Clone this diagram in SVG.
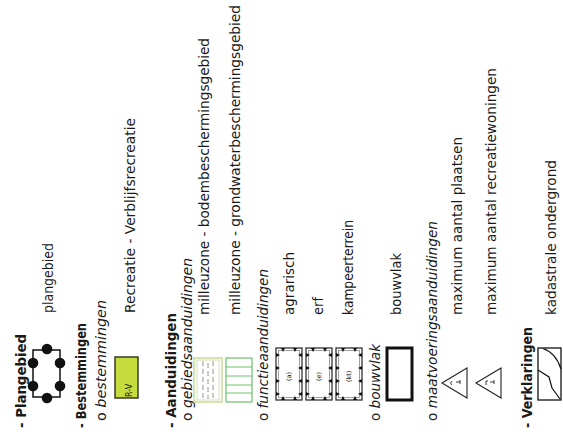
<svg xmlns="http://www.w3.org/2000/svg" width="563" height="439" viewBox="0 0 563 439">
<style>
text{font-family:"DejaVu Sans","Liberation Sans",sans-serif;fill:#1a1a1a;}
.h{font-size:14.5px;font-weight:bold;}
.t{font-size:13.5px;}
.i{font-style:italic;}
.dot{fill:#111;}
.fbox{fill:none;stroke:#333;stroke-width:1.3;}
.fin{fill:none;stroke:#888;stroke-width:0.8;}
.tri{fill:#111;}
.small{font-size:6.5px;}
</style>
<rect width="563" height="439" fill="#fff"/>

<g id="plangebied">
<text class="h" transform="translate(26,428) rotate(-90)" textLength="94" lengthAdjust="spacingAndGlyphs">- Plangebied</text>
<rect x="33" y="350" width="27" height="47" fill="none" stroke="#111" stroke-width="1.5"/>
<circle class="dot" cx="47" cy="349" r="5.3"/>
<circle class="dot" cx="33" cy="363" r="5.3"/>
<circle class="dot" cx="60" cy="363" r="5.3"/>
<circle class="dot" cx="33" cy="386" r="5.3"/>
<circle class="dot" cx="60" cy="386" r="5.3"/>
<circle class="dot" cx="47" cy="398" r="5.3"/>
<text class="t" transform="translate(53,313) rotate(-90)" textLength="70" lengthAdjust="spacingAndGlyphs">plangebied</text>
</g>

<g id="bestemmingen">
<text class="h" transform="translate(86,428) rotate(-90)" textLength="105" lengthAdjust="spacingAndGlyphs">- Bestemmingen</text>
<text class="t" transform="translate(106,421) rotate(-90)" textLength="121" lengthAdjust="spacingAndGlyphs"><tspan>o</tspan><tspan class="i"> bestemmingen</tspan></text>
</g>

<g id="recreatie">
<rect x="115" y="357" width="23" height="41" fill="#c5dc3c" stroke="#3a3a22" stroke-width="1.5"/>
<text transform="translate(132,397) rotate(-90)" font-size="8">R-V</text>
<text class="t" transform="translate(135,313) rotate(-90)" textLength="195" lengthAdjust="spacingAndGlyphs">Recreatie - Verblijfsrecreatie</text>
</g>

<g id="aanduidingen">
<text class="h" transform="translate(176,428) rotate(-90)" textLength="115" lengthAdjust="spacingAndGlyphs">- Aanduidingen</text>
<text class="t" transform="translate(192,421) rotate(-90)" textLength="163" lengthAdjust="spacingAndGlyphs"><tspan>o</tspan><tspan class="i"> gebiedsaanduidingen</tspan></text>
</g>

<g id="bodembescherming">
<rect x="194" y="358" width="28" height="44" fill="none" stroke="#b9d27e" stroke-width="1.2"/>
<rect x="197" y="360" width="22" height="40" fill="none" stroke="#c9d9a8" stroke-width="0.8"/>
<g stroke="#9a9a8a" stroke-width="1" stroke-dasharray="5 3">
<line x1="203" y1="361" x2="203" y2="399"/>
<line x1="208" y1="363" x2="208" y2="399"/>
<line x1="213" y1="361" x2="213" y2="399"/>
</g>
<text class="t" transform="translate(209,315) rotate(-90)" textLength="277" lengthAdjust="spacingAndGlyphs">milleuzone - bodembeschermingsgebied</text>
</g>

<g id="grondwaterbescherming">
<rect x="226" y="358" width="26" height="44" fill="none" stroke="#6cc06c" stroke-width="1.2"/>
<g stroke="#6cc06c" stroke-width="1">
<line x1="226" y1="367" x2="252" y2="367"/>
<line x1="226" y1="376" x2="252" y2="376"/>
<line x1="226" y1="385" x2="252" y2="385"/>
<line x1="226" y1="393" x2="252" y2="393"/>
</g>
<text class="t" transform="translate(240,315) rotate(-90)" textLength="310" lengthAdjust="spacingAndGlyphs">milleuzone - grondwaterbeschermingsgebied</text>
</g>

<g id="functieaanduidingen">
<text class="t" transform="translate(268,421) rotate(-90)" textLength="152" lengthAdjust="spacingAndGlyphs"><tspan>o</tspan><tspan class="i"> functieaanduidingen</tspan></text>
</g>

<defs>
<g id="fsym">
<rect class="fbox" x="0" y="0" width="26" height="52"/>
<rect class="fin" x="2.5" y="2.5" width="21" height="47"/>
<path class="tri" d="M0,5 l4,2 l-4,2z M0,18 l4,2 l-4,2z M0,31 l4,2 l-4,2z M0,44 l4,2 l-4,2z M26,5 l-4,2 l4,2z M26,18 l-4,2 l4,2z M26,31 l-4,2 l4,2z M26,44 l-4,2 l4,2z M5,0 l2,4 l2,-4z M17,0 l2,4 l2,-4z M5,52 l2,-4 l2,4z M17,52 l2,-4 l2,4z"/>
</g>
</defs>

<g id="agrarisch">
<use href="#fsym" x="276" y="348"/>
<text class="small" transform="translate(291,381) rotate(-90)">(a)</text>
<text class="t" transform="translate(294,315) rotate(-90)" textLength="63" lengthAdjust="spacingAndGlyphs">agrarisch</text>
</g>

<g id="erf">
<use href="#fsym" x="306" y="348"/>
<text class="small" transform="translate(321,381) rotate(-90)">(e)</text>
<text class="t" transform="translate(323,315) rotate(-90)" textLength="18" lengthAdjust="spacingAndGlyphs">erf</text>
</g>

<g id="kampeerterrein">
<use href="#fsym" x="336" y="348"/>
<text class="small" transform="translate(351,382) rotate(-90)">(kt)</text>
<text class="t" transform="translate(353,315) rotate(-90)" textLength="95" lengthAdjust="spacingAndGlyphs">kampeerterrein</text>
</g>

<g id="bouwvlak">
<text class="t" transform="translate(380,421) rotate(-90)" textLength="77" lengthAdjust="spacingAndGlyphs"><tspan>o</tspan><tspan class="i"> bouwvlak</tspan></text>
<rect x="387" y="348" width="25" height="52" fill="none" stroke="#111" stroke-width="3"/>
<text class="t" transform="translate(401,315) rotate(-90)" textLength="62" lengthAdjust="spacingAndGlyphs">bouwvlak</text>
</g>

<g id="maatvoeringsaanduidingen">
<text class="t" transform="translate(437,421) rotate(-90)" textLength="200" lengthAdjust="spacingAndGlyphs"><tspan>o</tspan><tspan class="i"> maatvoeringsaanduidingen</tspan></text>
</g>

<g id="plaatsen">
<path d="M442,383 L467,368 L467,398 Z" fill="none" stroke="#222" stroke-width="1.1"/>
<path d="M452,381 q-3,2 0,4 M460,380 l0,4 M456,382 l4,0" fill="none" stroke="#222" stroke-width="0.9"/>
<text class="t" transform="translate(462,315) rotate(-90)" textLength="178" lengthAdjust="spacingAndGlyphs">maximum aantal plaatsen</text>
</g>

<g id="recreatiewoningen">
<path d="M476,383 L501,368 L501,398 Z" fill="none" stroke="#222" stroke-width="1.1"/>
<path d="M486,381 l0,4 M486,381 l2,0 M494,380 l0,4 M490,382 l4,0" fill="none" stroke="#222" stroke-width="0.9"/>
<text class="t" transform="translate(496,315) rotate(-90)" textLength="247" lengthAdjust="spacingAndGlyphs">maximum aantal recreatiewoningen</text>
</g>

<g id="verklaringen">
<text class="h" transform="translate(532,428) rotate(-90)" textLength="101" lengthAdjust="spacingAndGlyphs">- Verklaringen</text>
</g>

<g id="kadastrale">
<rect x="538" y="348" width="23" height="52" fill="none" stroke="#111" stroke-width="1.3"/>
<path d="M543,348.5 Q556,353 561,369" fill="none" stroke="#111" stroke-width="1.2"/>
<path d="M538,370 L549,377 L552,388 L560,399" fill="none" stroke="#111" stroke-width="1.2"/>
<text class="t" transform="translate(556,315) rotate(-90)" textLength="155" lengthAdjust="spacingAndGlyphs">kadastrale ondergrond</text>
</g>

<g id="connectors"></g>
</svg>
